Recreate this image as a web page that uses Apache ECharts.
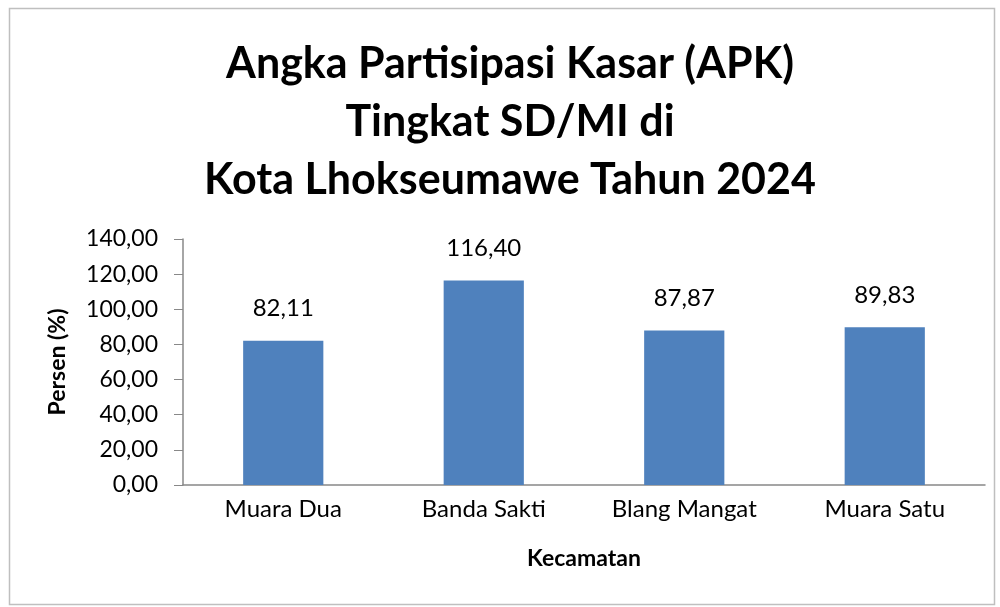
<!DOCTYPE html>
<html>
<head>
<meta charset="utf-8">
<script src="https://cdn.jsdelivr.net/npm/echarts@6/dist/echarts.min.js"></script>
<style>
html, body { margin: 0; padding: 0; background: #fff; }
#chart { width: 1000px; height: 607px; }
</style>
</head>
<body>
<div id="chart"></div>
<script>
// data
var kecamatan = ['Muara Dua', 'Banda Sakti', 'Blang Mangat', 'Muara Satu'];
var apk = [82.11, 116.40, 87.87, 89.83];

var fmt = function (v) {
    return Number(v).toFixed(2).replace('.', ',');
};

var myChart = echarts.init(document.getElementById('chart'));

var option = {
    backgroundColor: '#fff',
    animation: false,
    title: {
        text: 'Angka Partisipasi Kasar (APK)\nTingkat SD/MI di\nKota Lhokseumawe Tahun 2024',
        left: 505,
        textAlign: 'center',
        top: 30,
        textStyle: {
            fontFamily: 'Lato',
            fontWeight: 'bold',
            fontSize: 43,
            lineHeight: 58,
            color: '#000'
        }
    },
    graphic: [{
        type: 'rect',
        shape: { x: 9.5, y: 8.5, width: 985, height: 596 },
        style: { fill: 'none', stroke: '#bfbfbf', lineWidth: 1.5 },
        silent: true
    }],
    grid: {
        left: 183,
        right: 15,
        top: 239,
        bottom: 122
    },
    xAxis: {
        type: 'category',
        data: kecamatan,
        name: 'Kecamatan',
        nameLocation: 'middle',
        nameGap: 62,
        nameTextStyle: {
            fontFamily: 'Lato',
            fontWeight: 'bold',
            fontSize: 23,
            color: '#000'
        },
        axisLine: { lineStyle: { color: '#888', width: 1.5 } },
        axisTick: { show: false },
        axisLabel: {
            fontFamily: 'Lato',
            fontSize: 24,
            color: '#000',
            margin: 12
        }
    },
    yAxis: {
        type: 'value',
        min: 0,
        max: 140,
        interval: 20,
        name: 'Persen (%)',
        nameLocation: 'middle',
        nameGap: 114,
        nameTextStyle: {
            fontFamily: 'Lato',
            fontWeight: 'bold',
            fontSize: 23,
            color: '#000'
        },
        axisLine: { show: true, lineStyle: { color: '#888', width: 1.5 } },
        axisTick: { show: true, length: 9, lineStyle: { color: '#888' } },
        splitLine: { show: false },
        axisLabel: {
            fontFamily: 'Lato',
            fontSize: 23,
            color: '#000',
            margin: 25,
            formatter: fmt
        }
    },
    series: [{
        name: 'APK',
        type: 'bar',
        data: apk,
        barWidth: '40%',
        itemStyle: { color: '#4f81bd' },
        label: {
            show: true,
            position: 'top',
            distance: 20,
            fontFamily: 'Lato',
            fontSize: 24,
            color: '#000',
            formatter: function (p) { return fmt(p.value); }
        }
    }]
};

myChart.setOption(option);
</script>
</body>
</html>
